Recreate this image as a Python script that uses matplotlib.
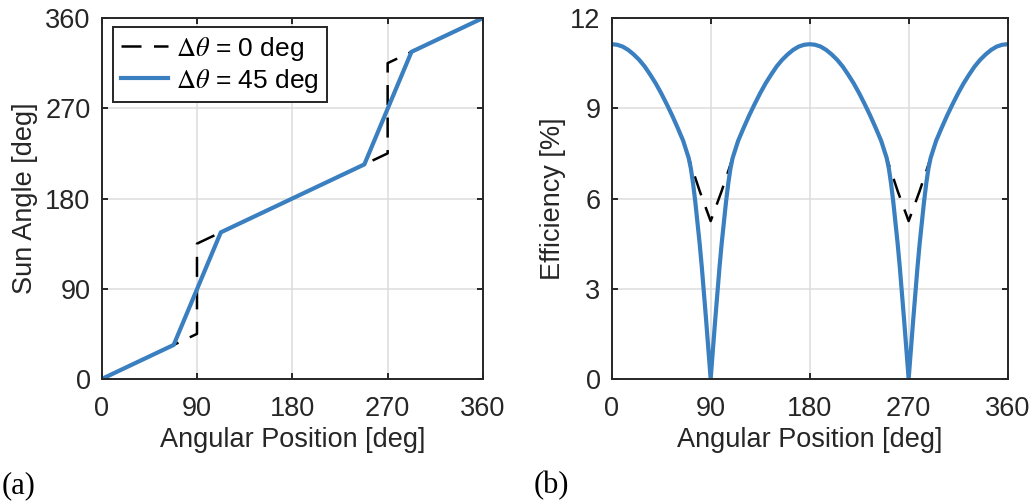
import numpy as np
import matplotlib.pyplot as plt

plt.rcParams['font.family'] = ['Liberation Sans', 'DejaVu Sans']
plt.rcParams['mathtext.fontset'] = 'stix'

# (a) sun angle vs angular position
pos_0 = [0, 90, 90, 270, 270, 360]
sun_0 = [0, 45, 135, 225, 315, 360]
pos_45 = [0, 68, 112.5, 248, 292.5, 360]
sun_45 = [0, 34, 146.25, 214, 326.25, 360]

# (b) efficiency vs angular position
eff_x0 = list(range(0, 365, 5))
eff_0 = [11.13, 11.11, 11.05, 10.94, 10.79, 10.61, 10.39, 10.12, 9.83, 9.50,
         9.14, 8.76, 8.35, 7.92, 7.35, 6.80, 6.25, 5.75, 5.25, 5.75, 6.25, 6.80,
         7.35, 7.92, 8.35, 8.76, 9.14, 9.50, 9.83, 10.12, 10.39, 10.61, 10.79,
         10.94, 11.05, 11.11, 11.13, 11.11, 11.05, 10.94, 10.79, 10.61, 10.39,
         10.12, 9.83, 9.50, 9.14, 8.76, 8.35, 7.92, 7.35, 6.80, 6.25, 5.75, 5.25,
         5.75, 6.25, 6.80, 7.35, 7.92, 8.35, 8.76, 9.14, 9.50, 9.83, 10.12, 10.39,
         10.61, 10.79, 10.94, 11.05, 11.11, 11.13]

eff_x45 = [0, 5, 10, 15, 20, 25, 30, 35, 40, 45, 50, 55, 60, 65, 70,
           72, 74, 76, 78, 80, 82, 84, 86, 88, 90, 92, 94, 96, 98, 100, 102, 104, 106, 108,
           110, 115, 120, 125, 130, 135, 140, 145, 150, 155, 160, 165, 170, 175, 180,
           185, 190, 195, 200, 205, 210, 215, 220, 225, 230, 235, 240, 245, 250,
           252, 254, 256, 258, 260, 262, 264, 266, 268, 270, 272, 274, 276, 278, 280,
           282, 284, 286, 288,
           290, 295, 300, 305, 310, 315, 320, 325, 330, 335, 340, 345, 350, 355, 360]
eff_45 = [11.13, 11.11, 11.05, 10.94, 10.79, 10.61, 10.39, 10.12, 9.83, 9.50,
          9.14, 8.76, 8.35, 7.92, 7.35,
          7.0, 6.5, 5.9, 5.2, 4.5, 3.7, 2.8, 1.9, 0.95, 0.0, 0.95, 1.9, 2.8, 3.7,
          4.5, 5.2, 5.9, 6.5, 7.0,
          7.35, 7.92, 8.35, 8.76, 9.14, 9.50, 9.83, 10.12, 10.39, 10.61, 10.79,
          10.94, 11.05, 11.11, 11.13, 11.11, 11.05, 10.94, 10.79, 10.61, 10.39,
          10.12, 9.83, 9.50, 9.14, 8.76, 8.35, 7.92, 7.35,
          7.0, 6.5, 5.9, 5.2, 4.5, 3.7, 2.8, 1.9, 0.95, 0.0, 0.95, 1.9, 2.8, 3.7,
          4.5, 5.2, 5.9, 6.5, 7.0,
          7.35, 7.92, 8.35, 8.76, 9.14, 9.50, 9.83, 10.12, 10.39, 10.61, 10.79,
          10.94, 11.05, 11.11, 11.13]

blue = '#3A7FC0'
dark = '#262626'

fig = plt.figure(figsize=(10.32, 5.03), dpi=100)
ax1 = fig.add_axes([0.0985, 0.2465, 0.3695, 0.7177])
ax2 = fig.add_axes([0.5927, 0.2465, 0.3837, 0.7177])


def style(ax, yticks):
    ax.set_xlim(0, 360)
    ax.set_xticks([0, 90, 180, 270, 360])
    ax.set_ylim(yticks[0], yticks[-1])
    ax.set_yticks(yticks)
    ax.grid(True, color='#DCDCDC', linewidth=1.1)
    ax.set_axisbelow(True)
    for s in ax.spines.values():
        s.set_color(dark)
        s.set_linewidth(1.4)
    ax.tick_params(direction='in', length=4, width=1.4, color=dark,
                   labelcolor=dark, labelsize=19.5, top=True, right=True)
    ax.tick_params(axis='x', pad=12)
    ax.tick_params(axis='y', pad=8)
    ax.set_xlabel('Angular Position [deg]', fontsize=19.5, color=dark, labelpad=4)


style(ax1, [0, 90, 180, 270, 360])
ax1.plot(pos_0, sun_0, color='black', linewidth=1.8, dashes=(8, 5),
         label=r'$\Delta\theta$ = 0 deg')
ax1.plot(pos_45, sun_45, color=blue, linewidth=3.0, label=r'$\Delta\theta$ = 45 deg')
ax1.set_ylabel('Sun Angle [deg]', fontsize=19.5, color=dark, labelpad=5)
leg = ax1.legend(loc='upper left', bbox_to_anchor=(0.029, 0.976), borderaxespad=0,
                 fontsize=19, fancybox=False, framealpha=1, edgecolor=dark,
                 handlelength=1.8, handletextpad=0.3, labelspacing=0.15,
                 borderpad=0.3)
leg.get_frame().set_linewidth(1.4)

style(ax2, [0, 3, 6, 9, 12])
ax2.plot(eff_x0, eff_0, color='black', linewidth=1.8, dashes=(8, 5))
ax2.plot(eff_x45, eff_45, color=blue, linewidth=3.0)
ax2.set_ylabel('Efficiency [%]', fontsize=19.5, color=dark, labelpad=3)

fig.text(0.002, 0.006, '(a)', fontsize=22, family='Liberation Serif', va='bottom')
fig.text(0.517, 0.006, '(b)', fontsize=22, family='Liberation Serif', va='bottom')

fig.savefig('out.png', dpi=100)
